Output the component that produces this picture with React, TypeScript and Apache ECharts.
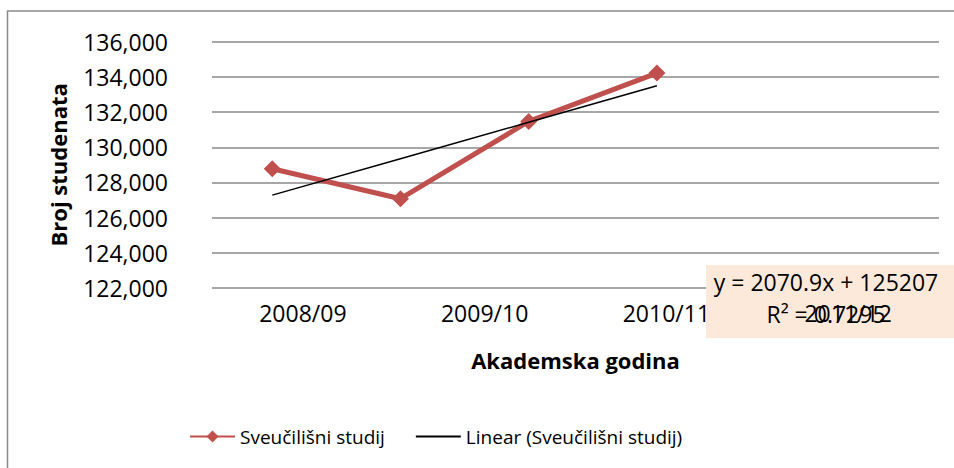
import React, { useEffect, useRef } from "react";
import * as echarts from "echarts";

const categories = ["2008/09", "2009/10", "2010/11", "2011/12"];
const students = [128779, 127074, 131467, 134218];
const trendValues = [127278, 129349, 131420, 133491];
const seriesName = "Sveučilišni studij";
const trendName = "Linear (Sveučilišni studij)";
const equationText = "y = 2070.9x + 125207";
const r2Text = "R² = 0.7295";
const yMin = 122000;
const yMax = 136000;
const yStep = 2000;

const FONT = '"Open Sans", "Noto Sans", sans-serif';

export default function App() {
  const ref = useRef<HTMLDivElement>(null);
  useEffect(() => {
    if (!ref.current) return;
    const chart = echarts.init(ref.current, undefined, { renderer: "svg" });
    chart.setOption({
      animation: false,
      backgroundColor: "#ffffff",
      textStyle: { fontFamily: FONT },
      grid: { left: 212, right: 15, top: 41.7, bottom: 180, containLabel: false },
      legend: {
        left: 184,
        top: 422,
        itemWidth: 45,
        itemHeight: 15,
        itemGap: 30,
        textStyle: { fontSize: 19, color: "#000", fontFamily: FONT },
        data: [
          { name: seriesName },
          { name: trendName, itemStyle: { opacity: 0 } },
        ],
      },
      xAxis: [
        {
          type: "category",
          data: categories,
          boundaryGap: true,
          z: 5,
          axisLine: { show: false },
          axisTick: { show: false },
          axisLabel: { fontSize: 23, color: "#000", margin: 13, fontFamily: FONT },
          name: "Akademska godina",
          nameLocation: "middle",
          nameGap: 61,
          nameTextStyle: { fontSize: 22, fontWeight: "bold", color: "#000", fontFamily: FONT },
          splitLine: { show: false },
        },
        {
          type: "value",
          show: false,
          min: 0.53,
          max: 6.2,
        },
      ],
      yAxis: {
        type: "value",
        min: yMin,
        max: yMax,
        interval: yStep,
        axisLine: { show: false },
        axisTick: { show: false },
        axisLabel: {
          fontSize: 23,
          color: "#000",
          margin: 44,
          fontFamily: FONT,
          formatter: (v: number) => v.toLocaleString("en-US"),
        },
        splitLine: { show: true, lineStyle: { color: "#8a8a8a", width: 1.5 } },
        name: "Broj studenata",
        nameLocation: "middle",
        nameGap: 143,
        nameRotate: 90,
        nameTextStyle: { fontSize: 22, fontWeight: "bold", color: "#000", fontFamily: FONT },
      },
      series: [
        {
          name: seriesName,
          type: "line",
          xAxisIndex: 1,
          data: students.map((v, i) => [i + 1, v]),
          symbol: "diamond",
          symbolSize: 17,
          itemStyle: { color: "#C0504D" },
          lineStyle: { color: "#C0504D", width: 5 },
          z: 3,
        },
        {
          name: trendName,
          type: "line",
          xAxisIndex: 1,
          data: trendValues.map((v, i) => [i + 1, v]),
          symbol: "none",
          itemStyle: { color: "#000" },
          lineStyle: { color: "#000", width: 1.5 },
          z: 4,
        },
      ],
      graphic: [
        {
          type: "rect",
          z: 0,
          shape: { x: 7.5, y: 11, width: 1000, height: 1000 },
          style: { fill: "none", stroke: "#8a8a8a", lineWidth: 1.5 },
        },
        {
          type: "rect",
          z: 1,
          shape: { x: 706, y: 265, width: 260, height: 73 },
          style: { fill: "#FDE9D9" },
        },
        {
          type: "text",
          z: 2,
          x: 826,
          y: 282,
          style: { text: equationText, font: `23px ${FONT}`, fill: "#000", align: "center", verticalAlign: "middle" },
        },
        {
          type: "text",
          z: 2,
          x: 826,
          y: 314,
          style: { text: r2Text, font: `23px ${FONT}`, fill: "#000", align: "center", verticalAlign: "middle" },
        },
      ],
    });
    return () => chart.dispose();
  }, []);
  return <div ref={ref} style={{ position: "fixed", left: 0, top: 0, width: 954, height: 468 }} />;
}
